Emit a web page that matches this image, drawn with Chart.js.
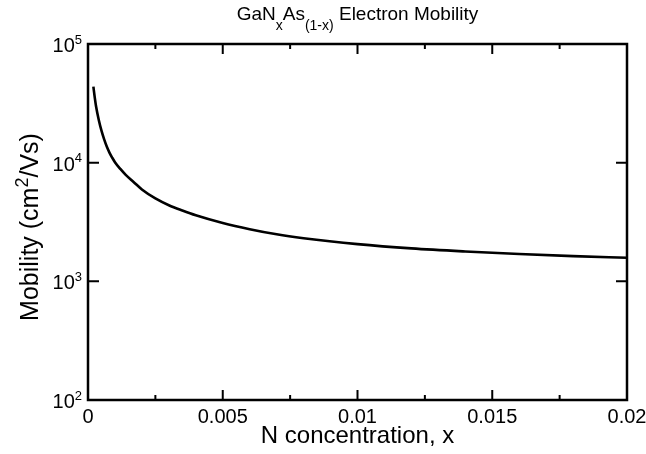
<!DOCTYPE html>
<html>
<head>
<meta charset="utf-8">
<script src="https://cdn.jsdelivr.net/npm/chart.js@4"></script>
<style>
  html, body { margin: 0; padding: 0; background: #fff; }
  #wrap { width: 646px; height: 454px; }
</style>
</head>
<body>
<div id="wrap"><canvas id="c" width="646" height="454"></canvas></div>
<script>
// N fraction x in GaN_xAs_(1-x)
const nFraction = [0.0002, 0.00025, 0.0003, 0.0004, 0.0005, 0.0006, 0.0007, 0.0008, 0.0009, 0.001,
                   0.0012, 0.0014, 0.0017, 0.002, 0.0025, 0.003, 0.0035, 0.004, 0.005, 0.006,
                   0.007, 0.008, 0.01, 0.012, 0.014, 0.016, 0.018, 0.02];
// electron mobility, cm^2/Vs
const mobility = [43700, 35500, 29700, 22900, 18600, 15700, 13600, 12100, 11000, 10100,
                  8850, 7900, 6850, 5950, 5000, 4380, 3950, 3600, 3100, 2750,
                  2490, 2310, 2060, 1895, 1785, 1700, 1630, 1580];
const xTickValues = [0, 0.005, 0.01, 0.015, 0.02];
const xTickLabels = ['0', '0.005', '0.01', '0.015', '0.02'];
const xMinorValues = [0.0025, 0.0075, 0.0125, 0.0175];
const yDecadeExponents = [2, 3, 4, 5];

const FONT = '"Liberation Sans", Arial, Helvetica, sans-serif';
const TICK_SIZE = 20;
const TITLE_SIZE = 19;
const AXIS_TITLE_SIZE = 24;

// Draws a run of [text, kind] pieces: kind 0 = normal, 1 = subscript, 2 = superscript.
function richWidth(ctx, parts, size, small) {
  let w = 0;
  for (const [t, k] of parts) {
    ctx.font = (k ? Math.round(size * small) : size) + 'px ' + FONT;
    w += ctx.measureText(t).width;
  }
  return w;
}
function drawRich(ctx, parts, x, y, size, align, small, subDrop) {
  small = small || 0.65;
  subDrop = subDrop || 0.32;
  const w = richWidth(ctx, parts, size, small);
  let cx = align === 'center' ? x - w / 2 : (align === 'right' ? x - w : x);
  ctx.textBaseline = 'alphabetic';
  ctx.textAlign = 'left';
  for (const [t, k] of parts) {
    const s = k ? Math.round(size * small) : size;
    ctx.font = s + 'px ' + FONT;
    const dy = k === 1 ? size * subDrop : (k === 2 ? -size * 0.42 : 0);
    ctx.fillText(t, cx, y + dy);
    cx += ctx.measureText(t).width;
  }
}

const framePlugin = {
  id: 'frame',
  afterDraw(chart) {
    const ctx = chart.ctx;
    const a = chart.chartArea;
    const xs = chart.scales.x, ys = chart.scales.y;
    ctx.save();
    ctx.strokeStyle = '#000';
    ctx.fillStyle = '#000';
    ctx.lineWidth = 2;
    // inward tick marks on all four sides
    ctx.beginPath();
    for (const v of xTickValues) {
      const px = xs.getPixelForValue(v);
      ctx.moveTo(px, a.bottom); ctx.lineTo(px, a.bottom - 10);
      ctx.moveTo(px, a.top); ctx.lineTo(px, a.top + 10);
    }
    for (const v of xMinorValues) {
      const px = xs.getPixelForValue(v);
      ctx.moveTo(px, a.bottom); ctx.lineTo(px, a.bottom - 5);
      ctx.moveTo(px, a.top); ctx.lineTo(px, a.top + 5);
    }
    for (const e of yDecadeExponents) {
      const py = ys.getPixelForValue(Math.pow(10, e));
      ctx.moveTo(a.left, py); ctx.lineTo(a.left + 11, py);
      ctx.moveTo(a.right, py); ctx.lineTo(a.right - 11, py);
    }
    ctx.stroke();
    ctx.lineWidth = 2.5;
    ctx.strokeRect(a.left, a.top, a.right - a.left, a.bottom - a.top);

    // y tick labels with superscript exponents
    for (const e of yDecadeExponents) {
      const py = ys.getPixelForValue(Math.pow(10, e));
      drawRich(ctx, [['10', 0], [String(e), 2]], a.left - 6, py + 8, TICK_SIZE, 'right');
    }
    // x tick labels
    ctx.font = TICK_SIZE + 'px ' + FONT;
    ctx.textAlign = 'center';
    ctx.textBaseline = 'top';
    xTickValues.forEach((v, i) => {
      ctx.fillText(xTickLabels[i], xs.getPixelForValue(v), a.bottom + 7);
    });
    // x axis title
    ctx.font = AXIS_TITLE_SIZE + 'px ' + FONT;
    ctx.textBaseline = 'alphabetic';
    ctx.fillText('N concentration, x', (a.left + a.right) / 2, a.bottom + 43);
    // chart title
    drawRich(ctx, [['GaN', 0], ['x', 1], ['As', 0], ['(1-x)', 1], [' Electron Mobility', 0]],
             (a.left + a.right) / 2, 20, TITLE_SIZE, 'center', 0.72, 0.5);
    // y axis title
    ctx.save();
    ctx.translate(38, (a.top + a.bottom) / 2 + 5);
    ctx.rotate(-Math.PI / 2);
    drawRich(ctx, [['Mobility (cm', 0], ['2', 2], ['/Vs)', 0]], 0, 0, 25, 'center', 0.7);
    ctx.restore();
    ctx.restore();
  }
};

new Chart(document.getElementById('c'), {
  type: 'line',
  data: {
    labels: nFraction,
    datasets: [{
      data: nFraction.map((x, i) => ({ x: x, y: mobility[i] })),
      borderColor: '#000',
      borderWidth: 2.6,
      pointRadius: 0,
      cubicInterpolationMode: 'monotone',
      fill: false
    }]
  },
  options: {
    responsive: false,
    animation: false,
    layout: { padding: { top: 44, right: 19, left: 0, bottom: 0 } },
    plugins: { legend: { display: false }, tooltip: { enabled: false }, title: { display: false } },
    scales: {
      x: {
        type: 'linear', min: 0, max: 0.02,
        grid: { display: false, drawTicks: false },
        border: { display: false },
        ticks: { display: false },
        afterFit(s) { s.height = 54; }
      },
      y: {
        type: 'logarithmic', min: 100, max: 100000,
        grid: { display: false, drawTicks: false },
        border: { display: false },
        ticks: { display: false },
        afterFit(s) { s.width = 88; }
      }
    }
  },
  plugins: [framePlugin]
});
</script>
</body>
</html>
